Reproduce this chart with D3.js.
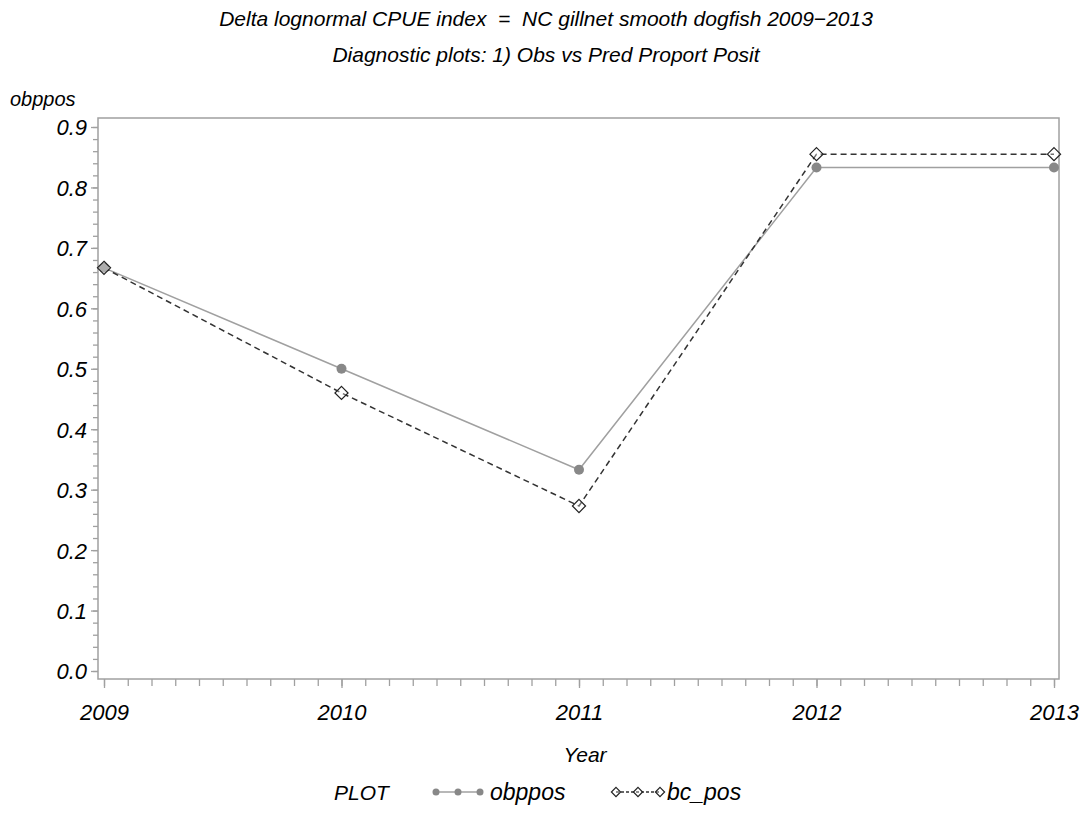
<!DOCTYPE html>
<html>
<head>
<meta charset="utf-8">
<script src="https://cdn.jsdelivr.net/npm/d3@7"></script>
<style>
  body { margin: 0; background: #fff; }
  text { font-family: "Liberation Sans", Arial, sans-serif; font-style: italic; fill: #000; }
</style>
</head>
<body>
<svg id="chart" width="1082" height="819"></svg>
<script>
// chart data
var years = [2009, 2010, 2011, 2012, 2013]
var obppos = [0.667, 0.5, 0.333, 0.833, 0.833]
var bcPos = [0.667, 0.460, 0.273, 0.855, 0.855]
var yTicks = [0.0, 0.1, 0.2, 0.3, 0.4, 0.5, 0.6, 0.7, 0.8, 0.9]
var titleLines = [
  'Delta lognormal CPUE index  =  NC gillnet smooth dogfish 2009\u22122013',
  'Diagnostic plots: 1) Obs vs Pred Proport Posit'
]

var svg = d3.select('#chart')

// plot frame
var frame = { left: 98, right: 1059, top: 118, bottom: 679 }

var x = d3.scaleLinear().domain([2009, 2013]).range([104, 1054])
var y = d3.scaleLinear().domain([0, 0.9]).range([671, 127])

var axisColor = '#a0a0a0'

// titles
svg.selectAll('.title')
  .data(titleLines)
  .enter()
  .append('text')
  .attr('class', 'title')
  .attr('x', 546)
  .attr('y', (d, i) => 26 + i * 36)
  .attr('text-anchor', 'middle')
  .style('font-size', '21px')
  .style('white-space', 'pre')
  .text((d) => d)

// frame box
svg.append('rect')
  .attr('x', frame.left)
  .attr('y', frame.top)
  .attr('width', frame.right - frame.left)
  .attr('height', frame.bottom - frame.top)
  .attr('fill', 'none')
  .attr('stroke', axisColor)
  .attr('stroke-width', 1.5)

// y axis - major and minor ticks
var yMinor = d3.range(0, 0.9 + 1e-9, 0.02)
var yAxisMinor = d3.axisLeft(y).tickValues(yMinor).tickSize(5).tickFormat('')
var yAxisMajor = d3.axisLeft(y).tickValues(yTicks).tickSize(7).tickFormat(d3.format('.1f')).tickPadding(4)

var gyMin = svg.append('g').attr('transform', `translate(${frame.left},0)`).call(yAxisMinor)
var gy = svg.append('g').attr('transform', `translate(${frame.left},0)`).call(yAxisMajor)
;[gy, gyMin].forEach((g) => {
  g.select('.domain').remove()
  g.selectAll('line').attr('stroke', axisColor).attr('stroke-width', 1.3)
})
gy.selectAll('text')
  .style('font-size', '22px')
  .style('font-family', '"Liberation Sans", Arial, sans-serif')
  .attr('fill', '#000')
  .attr('dy', '0.36em')

// x axis - major and minor ticks
var xMinor = d3.range(2009, 2013 + 1e-9, 0.1)
var xAxisMinor = d3.axisBottom(x).tickValues(xMinor).tickSize(7).tickFormat('')
var xAxisMajor = d3.axisBottom(x).tickValues(years).tickSize(9).tickFormat(d3.format('d')).tickPadding(16)

var gxMin = svg.append('g').attr('transform', `translate(0,${frame.bottom})`).call(xAxisMinor)
var gx = svg.append('g').attr('transform', `translate(0,${frame.bottom})`).call(xAxisMajor)
;[gx, gxMin].forEach((g) => {
  g.select('.domain').remove()
  g.selectAll('line').attr('stroke', axisColor).attr('stroke-width', 1.3)
})
gx.selectAll('text')
  .style('font-size', '22px')
  .style('font-family', '"Liberation Sans", Arial, sans-serif')
  .attr('fill', '#000')

// axis titles
svg.append('text')
  .attr('x', 10)
  .attr('y', 106)
  .style('font-size', '20px')
  .text('obppos')

svg.append('text')
  .attr('x', 585)
  .attr('y', 762)
  .attr('text-anchor', 'middle')
  .style('font-size', '21px')
  .text('Year')

// series
var series = [
  { name: 'obppos', values: obppos, stroke: '#a0a0a0', dash: null, marker: 'circle' },
  { name: 'bc_pos', values: bcPos, stroke: '#333', dash: '6,4', marker: 'diamond' }
]

var line = d3.line()
  .x((d) => x(d.year))
  .y((d) => y(d.value))

series.forEach((s) => {
  var pts = years.map((yr, i) => ({ year: yr, value: s.values[i] }))
  svg.append('path')
    .datum(pts)
    .attr('fill', 'none')
    .attr('stroke', s.stroke)
    .attr('stroke-width', 1.5)
    .attr('stroke-dasharray', s.dash)
    .attr('d', line)
  s.pts = pts
})

function drawMarker(g, type, cx, cy, scale) {
  if (type === 'circle') {
    g.append('circle')
      .attr('cx', cx).attr('cy', cy).attr('r', 5 * scale)
      .attr('fill', '#888')
  } else {
    g.append('path')
      .attr('d', d3.symbol().type(d3.symbolDiamond2).size(110 * scale * scale)())
      .attr('transform', `translate(${cx},${cy})`)
      .attr('fill', '#fff')
      .attr('fill-opacity', 0.3)
      .attr('stroke', '#222')
      .attr('stroke-width', 1.2)
  }
}

series.forEach((s) => {
  var g = svg.append('g')
  s.pts.forEach((p) => drawMarker(g, s.marker, x(p.year), y(p.value), 1))
})

// legend
var legendY = 792
svg.append('text')
  .attr('x', 334)
  .attr('y', legendY + 8)
  .style('font-size', '21px')
  .text('PLOT')

var legendItems = [
  { series: series[0], x0: 436, textX: 490 },
  { series: series[1], x0: 616, textX: 667 }
]
legendItems.forEach((item) => {
  var s = item.series
  var g = svg.append('g')
  g.append('line')
    .attr('x1', item.x0).attr('x2', item.x0 + 44)
    .attr('y1', legendY).attr('y2', legendY)
    .attr('stroke', s.stroke)
    .attr('stroke-width', 1.5)
    .attr('stroke-dasharray', s.dash ? '3,2' : null)
  ;[0, 22, 44].forEach((dx) => drawMarker(g, s.marker, item.x0 + dx, legendY, 0.7))
  svg.append('text')
    .attr('x', item.textX)
    .attr('y', legendY + 8)
    .style('font-size', '23px')
    .text(s.name)
})
</script>
</body>
</html>
